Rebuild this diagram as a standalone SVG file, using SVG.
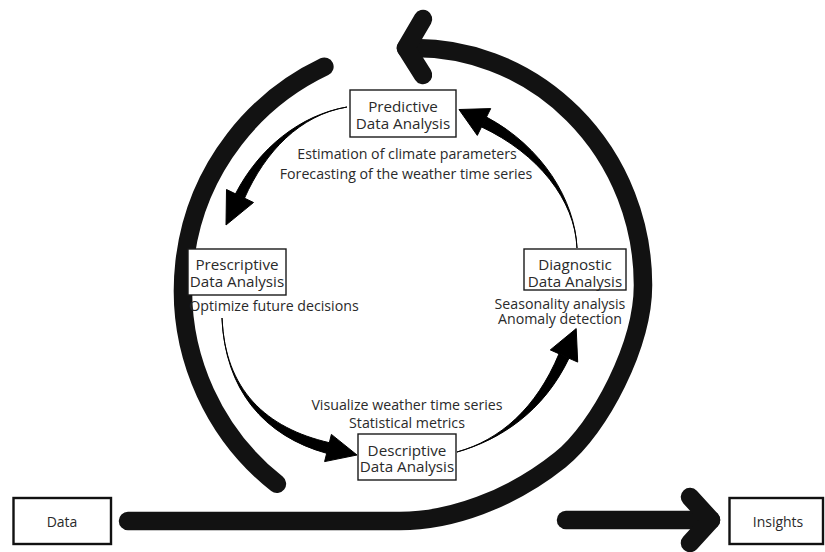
<svg xmlns="http://www.w3.org/2000/svg" width="825" height="552" viewBox="0 0 825 552">
<style>
.thick{fill:none;stroke:#121212;stroke-width:18.5;stroke-linecap:round;stroke-linejoin:round}
.taper{fill:#000;stroke:#000;stroke-width:1;stroke-linejoin:round}
.box{fill:#fff;stroke:#1a1a1a;stroke-width:1.4}
.ebox{fill:#fff;stroke:#111;stroke-width:2.4}
.t{font-family:"Open Sans","Noto Sans",sans-serif;fill:#2a2a2a;text-anchor:middle}
.lbl{font-size:15.2px}
.dsc{font-size:14.2px}
</style>
<rect width="825" height="552" fill="#fff"/>
<g id="connectors">
  <path class="thick" d="M128,521 L400,521 C450,521 510,500 560,460 C600,428 643,345 643,285 A228,237 0 0 0 406,48.2"/>
  <path class="thick" d="M423,19 L406,48 L423,75"/>
  <path class="thick" d="M324.4,66.7 A247,247 0 0 0 276.9,483.8"/>
  <path class="thick" d="M566,520 L711,520"/>
  <path class="thick" d="M690,497 L711,520 L690,543"/>
  <path class="taper" d="M347,107 C300,115 265.2,151.5 244.5,198.2 L235.5,193.8 C258.8,148.5 300,115 347,107 Z"/>
  <path class="taper" d="M226,225 L253.5,202.5 L226.5,189.5 Z"/>
  <path class="taper" d="M222,318 C225,390 264,435.9 326.6,453.3 L329.4,442.7 C266,428.1 225,390 222,318 Z"/>
  <path class="taper" d="M357,455 L324.6,461.6 L331.4,434.4 Z"/>
  <path class="taper" d="M457,452 C500,440 543.7,411.6 569,358.2 L559,353.8 C536.3,408.4 500,440 457,452 Z"/>
  <path class="taper" d="M576.2,328.6 L577.7,362.1 L550.3,349.9 Z"/>
  <path class="taper" d="M577,248 C575,200 538.2,153.6 481.5,126.9 L486.5,117.1 C541.8,146.4 575,200 577,248 Z"/>
  <path class="taper" d="M459,109.5 L477.3,135.4 L490.7,108.6 Z"/>
</g>
<g id="data">
  <rect class="ebox" x="13.5" y="498" width="97.5" height="46"/>
  <text class="t" x="62" y="527" font-size="14">Data</text>
</g>
<g id="insights">
  <rect class="ebox" x="729.5" y="498" width="93.5" height="46"/>
  <text class="t" x="778" y="527" font-size="14">Insights</text>
</g>
<g id="predictive">
  <rect class="box" x="350" y="90" width="106" height="47"/>
  <text class="t lbl" x="403" y="112">Predictive</text>
  <text class="t lbl" x="403" y="128.5">Data Analysis</text>
  <text class="t dsc" x="407" y="159">Estimation of climate parameters</text>
  <text class="t dsc" x="406" y="179">Forecasting of the weather time series</text>
</g>
<g id="prescriptive">
  <rect class="box" x="188" y="249" width="98" height="46"/>
  <text class="t lbl" x="237" y="270">Prescriptive</text>
  <text class="t lbl" x="237" y="287">Data Analysis</text>
  <text class="t dsc" x="274" y="311">Optimize future decisions</text>
</g>
<g id="diagnostic">
  <rect class="box" x="524" y="249" width="102" height="41"/>
  <text class="t lbl" x="575" y="270">Diagnostic</text>
  <text class="t lbl" x="575" y="286.5">Data Analysis</text>
  <text class="t dsc" x="560" y="309">Seasonality analysis</text>
  <text class="t dsc" x="560" y="323.5">Anomaly detection</text>
</g>
<g id="descriptive">
  <rect class="box" x="358" y="434" width="98" height="46"/>
  <text class="t dsc" x="407" y="410">Visualize weather time series</text>
  <text class="t dsc" x="407" y="428">Statistical metrics</text>
  <text class="t lbl" x="407" y="455.5">Descriptive</text>
  <text class="t lbl" x="407" y="472">Data Analysis</text>
</g>
</svg>
